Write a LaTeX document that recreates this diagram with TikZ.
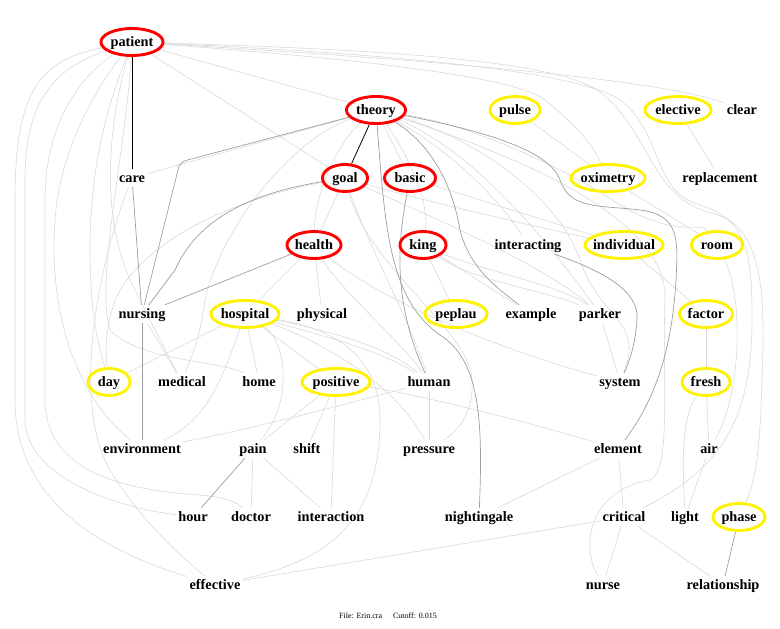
\documentclass[tikz,border=0pt]{standalone}
\usepackage{fontspec}
\setmainfont{Liberation Serif}
\usetikzlibrary{shapes.geometric}
\pgfdeclarelayer{background}
\pgfsetlayers{background,main}
\newcommand\wordfont{\fontsize{14.3}{16}\selectfont\bfseries}
\tikzset{
 word/.style={font=\wordfont, inner sep=2pt, text height=11.5pt, text depth=2.5pt},
 ring/.style={ellipse, font=\wordfont, text height=11.5pt, text depth=2.5pt, inner xsep=-14pt, inner ysep=-5pt, minimum height=27pt, line width=2.9pt},
 e0/.style={draw=black, line width=0.8pt},
 e1/.style={draw=black!38, line width=0.7pt},
 e2/.style={draw=black!15, line width=0.6pt},
}
% name, x, y, colour, outer width, text
\newcommand\ringed[6]{\node[ring, draw=#4, minimum width=#5pt-2.9pt] (#1) at (#2,#3) {#6};}
\begin{document}
\begin{tikzpicture}[x={(1pt,0pt)},y={(0pt,-1pt)}]
\useasboundingbox (0,0) rectangle (780,629);
% ringed nodes
\ringed{patient}{132}{42}{red}{65}{patient}
\ringed{theory}{376}{110}{red}{62}{theory}
\ringed{pulse}{515}{110}{yellow}{53}{pulse}
\ringed{elective}{678}{110}{yellow}{69}{elective}
\ringed{goal}{345}{178}{red}{48}{goal}
\ringed{basic}{410}{178}{red}{54}{basic}
\ringed{oximetry}{608}{178}{yellow}{77}{oximetry}
\ringed{health}{314}{245}{red}{57}{health}
\ringed{king}{423}{245}{red}{49}{king}
\ringed{individual}{624}{245}{yellow}{81}{individual}
\ringed{room}{717}{245}{yellow}{54}{room}
\ringed{hospital}{245}{314}{yellow}{71}{hospital}
\ringed{peplau}{456}{314}{yellow}{65}{peplau}
\ringed{factor}{706}{314}{yellow}{56}{factor}
\ringed{day}{109}{382}{yellow}{45}{day}
\ringed{positive}{336}{382}{yellow}{71}{positive}
\ringed{fresh}{706}{382}{yellow}{51}{fresh}
\ringed{phase}{739}{517}{yellow}{55}{phase}
% plain nodes
\node[word] (clear) at (742,110) {clear};
\node[word] (care) at (132,178) {care};
\node[word] (replacement) at (720,178) {replacement};
\node[word] (interacting) at (528,245) {interacting};
\node[word] (nursing) at (142,314) {nursing};
\node[word] (physical) at (322,314) {physical};
\node[word] (example) at (531,314) {example};
\node[word] (parker) at (600,314) {parker};
\node[word] (medical) at (182,382) {medical};
\node[word] (home) at (259,382) {home};
\node[word] (human) at (429,382) {human};
\node[word] (system) at (620,382) {system};
\node[word] (environment) at (142,449) {environment};
\node[word] (pain) at (253,449) {pain};
\node[word] (shift) at (307,449) {shift};
\node[word] (pressure) at (429,449) {pressure};
\node[word] (element) at (618,449) {element};
\node[word] (air) at (709,449) {air};
\node[word] (hour) at (193,517) {hour};
\node[word] (doctor) at (251,517) {doctor};
\node[word] (interaction) at (331,517) {interaction};
\node[word] (nightingale) at (479,517) {nightingale};
\node[word] (critical) at (624,517) {critical};
\node[word] (light) at (685,517) {light};
\node[word] (effective) at (215,585) {effective};
\node[word] (nurse) at (603,585) {nurse};
\node[word] (relationship) at (723,585) {relationship};
\node[font=\fontsize{8}{9}\selectfont] (footer) at (388,616) {File: Erin.cra\hspace{11pt}Cutoff: 0.015};
\begin{pgfonlayer}{background}
% light edges
\draw[e2] (patient) -- (goal);
\draw[e2] (patient) -- (theory);
\draw[e2] (patient) .. controls (400,58) and (660,78) .. (clear);
\draw[e2] (patient) .. controls (400,50) and (560,62) .. (600,92) .. controls (650,130) and (650,200) .. (715,214) .. controls (765,228) and (765,300) .. (762,380) .. controls (760,450) and (756,480) .. (phase);
\draw[e2] (patient) .. controls (400,54) and (580,72) .. (620,100) .. controls (662,130) and (652,192) .. (700,205) .. controls (750,220) and (752,260) .. (752,320) .. controls (752,420) and (720,470) .. (critical);
\draw[e2] (patient) .. controls (400,62) and (520,80) .. (545,100) .. controls (575,125) and (590,140) .. (oximetry);
\draw[e2] (patient) .. controls (40,60) and (15,90) .. (15,200) -- (15,400) .. controls (15,500) and (100,550) .. (effective);
\draw[e2] (patient) .. controls (55,68) and (25,100) .. (25,180) -- (25,420) .. controls (25,470) and (100,505) .. (hour);
\draw[e2] (patient) .. controls (75,80) and (45,130) .. (45,200) -- (45,400) .. controls (45,470) and (120,490) .. (200,495) .. controls (220,497) and (235,500) .. (doctor);
\draw[e2] (patient) .. controls (95,90) and (60,150) .. (55,220) .. controls (48,320) and (80,400) .. (environment);
\draw[e2] (patient) .. controls (110,100) and (90,160) .. (90,250) .. controls (90,320) and (100,350) .. (day);
\draw[e2] (patient) .. controls (115,100) and (95,200) .. (130,280) .. controls (150,320) and (165,350) .. (medical);
\draw[e2] (patient) .. controls (126,150) and (95,280) .. (110,330) .. controls (140,362) and (220,360) .. (home);
\draw[e2] (theory) -- (care);
\draw[e2] (theory) .. controls (340,140) and (315,190) .. (health);
\draw[e2] (theory) -- (basic);
\draw[e2] (theory) .. controls (405,150) and (430,200) .. (king);
\draw[e2] (theory) .. controls (450,150) and (500,200) .. (interacting);
\draw[e2] (theory) .. controls (470,150) and (540,230) .. (parker);
\draw[e2] (theory) .. controls (480,140) and (560,200) .. (580,260) .. controls (600,320) and (645,320) .. (system);
\draw[e2] (theory) .. controls (290,140) and (220,230) .. (205,300) .. controls (200,340) and (190,360) .. (medical);
\draw[e2] (theory) .. controls (470,125) and (560,165) .. (620,205) .. controls (680,240) and (700,220) .. (room);
\draw[e2] (nurse) .. controls (580,545) and (590,490) .. (650,480) .. controls (672,470) and (662,380) .. (665,300) .. controls (668,230) and (560,170) .. (theory);
\draw[e2] (care) .. controls (100,260) and (70,400) .. (110,470) .. controls (140,520) and (180,555) .. (effective);
\draw[e2] (goal) -- (health);
\draw[e2] (goal) .. controls (370,250) and (410,320) .. (human);
\draw[e2] (goal) .. controls (230,200) and (150,240) .. (120,290) .. controls (105,320) and (105,350) .. (day);
\draw[e2] (goal) .. controls (420,200) and (550,230) .. (individual);
\draw[e2] (goal) .. controls (420,212) and (540,262) .. (parker);
\draw[e2] (goal) .. controls (370,270) and (470,330) .. (472,380) .. controls (474,410) and (460,430) .. (pressure);
\draw[e2] (basic) -- (individual);
\draw[e2] (health) -- (physical);
\draw[e2] (health) .. controls (340,290) and (400,340) .. (human);
\draw[e2] (health) -- (hospital);
\draw[e2] (health) .. controls (380,300) and (500,350) .. (system);
\draw[e2] (king) -- (peplau);
\draw[e2] (king) .. controls (480,270) and (560,285) .. (parker);
\draw[e2] (king) .. controls (470,280) and (550,292) .. (parker);
\draw[e2] (king) -- (example);
\draw[e2] (pulse) -- (oximetry);
\draw[e2] (elective) -- (replacement);
\draw[e2] (oximetry) -- (room);
\draw[e2] (individual) -- (factor);
\draw[e2] (parker) -- (system);
\draw[e2] (factor) -- (fresh);
\draw[e2] (fresh) -- (air);
\draw[e2] (fresh) .. controls (680,420) and (683,470) .. (light);
\draw[e2] (air) -- (light);
\draw[e2] (room) .. controls (745,300) and (740,400) .. (air);
\draw[e2] (element) -- (nightingale);
\draw[e2] (element) -- (critical);
\draw[e2] (critical) -- (nurse);
\draw[e2] (critical) -- (relationship);
\draw[e2] (critical) -- (effective);
\draw[e2] (hospital) -- (day);
\draw[e2] (hospital) -- (home);
\draw[e2] (hospital) .. controls (285,340) and (295,400) .. (pain);
\draw[e2] (hospital) -- (positive);
\draw[e2] (hospital) .. controls (320,335) and (380,350) .. (human);
\draw[e2] (hospital) .. controls (325,330) and (385,345) .. (human);
\draw[e2] (hospital) .. controls (330,345) and (400,390) .. (pressure);
\draw[e2] (hospital) .. controls (225,370) and (210,420) .. (environment);
\draw[e2] (hospital) .. controls (340,330) and (380,360) .. (380,420) .. controls (380,520) and (330,560) .. (effective);
\draw[e2] (nursing) -- (medical);
\draw[e2] (environment) .. controls (250,430) and (380,395) .. (human);
\draw[e2] (positive) .. controls (420,395) and (520,420) .. (element);
\draw[e2] (positive) -- (pain);
\draw[e2] (positive) -- (shift);
\draw[e2] (positive) -- (interaction);
\draw[e2] (pain) -- (doctor);
\draw[e2] (pain) -- (interaction);
\draw[e2] (human) -- (pressure);
% medium edges
\draw[e1] (care) -- (nursing);
\draw[e1, rounded corners=6pt] (theory) -- (180,162) -- (nursing);
\draw[e1] (goal) .. controls (240,195) and (195,225) .. (175,270) -- (nursing);
\draw[e1] (health) -- (nursing);
\draw[e1] (nursing) -- (environment);
\draw[e1] (basic) .. controls (398,240) and (392,300) .. (human);
\draw[e1] (theory) .. controls (385,230) and (390,300) .. (440,335) .. controls (480,360) and (483,420) .. (nightingale);
\draw[e1] (theory) .. controls (440,150) and (455,200) .. (460,230) .. controls (470,270) and (500,290) .. (example);
\draw[e1] (theory) .. controls (480,130) and (550,150) .. (560,180) .. controls (570,210) and (600,205) .. (640,210) .. controls (680,215) and (678,240) .. (676,280) .. controls (672,350) and (655,400) .. (element);
\draw[e1] (interacting) .. controls (600,270) and (640,290) .. (637,320) .. controls (635,345) and (630,360) .. (system);
\draw[e1] (pain) -- (hour);
\draw[e1] (phase) -- (relationship);
% strong edges
\draw[e0] (patient) -- (care);
\draw[e0] (theory) -- (goal);
\end{pgfonlayer}
\end{tikzpicture}
\end{document}
